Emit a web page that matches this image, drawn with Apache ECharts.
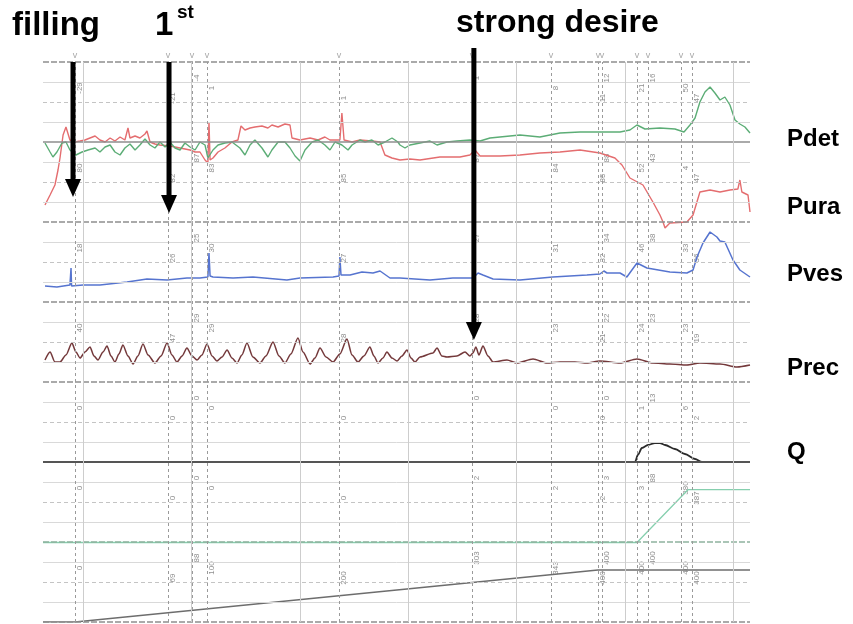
<!DOCTYPE html>
<html><head><meta charset="utf-8">
<script src="https://cdn.jsdelivr.net/npm/echarts@6/dist/echarts.min.js"></script>
<style>html,body{margin:0;padding:0;background:#fff}#c{width:853px;height:624px}</style>
</head><body><div id="c"></div>
<script>
// ---------- DATA (time in s) ----------
const minuteLines = [22, 82, 142, 202, 262, 322, 382];
const eventTimes = [17.7, 69.1, 82.4, 90.7, 163.7, 237.2, 280.9, 306.9, 309.1, 328.5, 334.6, 352.8, 358.9];
const arrowTimes = [16.6, 69.7, 238.3];
const arrowLabels = ['filling', '1st', 'strong desire'];
const channelNames = ['Pdet', 'Pura', 'Pves', 'Prec', 'Q'];

// Pdet, cmH2O
const pdet = [[1.1,-1],[3.9,-10],[5.5,-15],[7.7,-10],[10.5,-1],[12.7,0],[14.9,-8],[18.2,-13],[21.6,-10],[24.9,-8],[28.8,-6],[31.5,-10],[34.3,-5],[37.1,-3],[39.8,-10],[42.6,-13],[45.3,-6],[48.1,-2],[50.9,-8],[53.6,-3],[56.4,3],[59.2,-3],[61.9,-6],[64.7,0],[67.5,-5],[70.2,0],[73.0,-6],[75.8,-8],[78.5,-1],[81.3,-5],[84.1,-8],[86.8,0],[89.6,-3],[91.2,-16],[94.0,-8],[96.8,-3],[100.6,-1],[104.5,0],[108.9,-6],[111.7,-13],[114.5,-3],[117.2,2],[121.1,-6],[124.4,-15],[126.6,-8],[130.0,0],[133.8,0],[136.6,-6],[139.4,-14],[142.1,-19],[144.9,-8],[148.8,0],[152.1,2],[155.9,-3],[158.7,-8],[161.5,0],[165.3,-3],[168.7,-8],[170.9,-3],[175.3,2],[178.1,0],[181.9,2],[185.3,-3],[189.1,0],[193.0,4],[196.3,0],[197.4,-3],[200.2,-6],[202.9,-3],[208.5,-1],[214.0,1],[217.9,-3],[223.4,0],[228.9,1],[236.1,2],[241.7,1],[247.2,4],[252.7,5],[263.8,7],[274.8,5],[285.9,9],[297.0,10],[308.0,10],[319.1,10],[324.6,12],[328.5,17],[332.9,13],[341.2,14],[349.5,13],[354.5,10],[357.8,17],[360.6,24],[363.3,40],[366.1,50],[368.9,55],[371.6,49],[374.4,42],[377.1,45],[379.9,37],[382.7,22],[385.4,18],[388.2,15],[391.0,9]];
// Pura, cmH2O
const pura = [[1.1,17],[3.9,27],[6.6,37],[8.3,52],[9.4,64],[11.1,87],[12.7,95],[13.8,94],[14.9,82],[17.7,80],[20.5,81],[23.2,82],[26.0,84],[28.8,86],[31.5,82],[34.3,80],[37.1,84],[39.8,81],[42.6,85],[45.3,82],[47.0,94],[48.1,84],[50.9,86],[53.6,84],[56.4,88],[57.5,91],[59.2,80],[61.9,78],[64.7,77],[70.2,76],[75.8,74],[81.3,72],[84.1,70],[86.8,70],[89.6,62],[91.2,59],[91.8,100],[92.4,62],[94.0,64],[96.8,70],[100.6,74],[104.5,80],[107.8,82],[109.5,96],[111.7,92],[114.5,94],[117.2,95],[121.1,96],[124.4,94],[126.6,97],[130.0,95],[133.8,98],[136.6,97],[137.7,84],[142.1,82],[147.7,84],[152.1,82],[155.9,85],[158.7,82],[164.2,82],[165.3,109],[166.5,82],[170.9,80],[175.3,82],[181.9,81],[186.4,80],[189.1,67],[193.0,64],[197.4,62],[202.9,63],[208.5,62],[219.5,65],[230.6,65],[236.1,67],[238.9,72],[241.7,66],[252.7,66],[263.8,67],[274.8,69],[285.9,70],[297.0,72],[308.0,69],[316.3,64],[320.2,57],[324.6,44],[331.8,37],[337.3,20],[341.2,7],[342.9,0],[344.0,-6],[346.7,-1],[356.1,0],[359.5,7],[363.3,30],[368.9,32],[374.4,30],[379.9,32],[384.3,33],[385.4,42],[386.5,30],[389.9,27],[391.0,10]];
// Pves, cmH2O
const pves = [[1.1,16],[7.7,15],[14.9,17],[15.2,17],[15.5,34],[15.8,16],[22.1,17],[31.5,17],[46.5,20],[57.5,23],[68.6,22],[79.6,24],[86.8,24],[91.2,25],[91.8,49],[92.4,26],[94.0,25],[105.1,24],[116.1,25],[134.9,22],[142.1,24],[160.4,25],[163.7,26],[164.2,45],[164.8,27],[169.8,27],[176.4,30],[182.5,29],[186.4,31],[191.9,24],[197.4,24],[214.0,22],[226.7,24],[237.8,24],[240.6,29],[243.3,27],[248.9,23],[263.8,22],[282.0,25],[300.8,27],[308.0,28],[310.2,31],[311.9,29],[319.1,29],[322.9,25],[328.5,39],[334.0,34],[346.7,30],[356.1,29],[359.5,32],[361.7,45],[365.0,59],[368.9,70],[372.7,65],[374.4,61],[377.1,60],[381.6,42],[385.4,32],[391.0,25]];
// Prec, cmH2O
const prec = [[1.1,22],[3.9,30],[6.6,20],[9.4,20],[12.7,27],[16.0,39],[18.2,30],[20.5,24],[23.2,30],[26.0,35],[28.2,26],[30.4,22],[33.2,30],[35.4,36],[37.6,26],[39.8,20],[42.0,28],[44.2,37],[47.0,26],[49.8,18],[52.5,26],[55.3,38],[58.1,27],[61.9,19],[65.3,26],[68.6,39],[71.3,27],[74.1,20],[76.9,26],[79.6,34],[82.4,26],[85.2,22],[87.9,27],[90.7,38],[93.5,26],[96.2,21],[99.0,25],[101.8,32],[104.5,24],[107.3,19],[110.0,27],[112.8,39],[116.1,25],[120.0,19],[123.3,26],[127.2,40],[130.5,26],[133.8,19],[137.1,28],[141.0,44],[143.8,30],[147.7,18],[150.4,24],[153.2,34],[156.5,25],[160.4,20],[164.2,28],[168.1,43],[170.9,27],[174.2,20],[177.5,26],[180.8,35],[183.0,26],[185.3,19],[188.0,24],[190.2,30],[193.0,24],[195.8,21],[198.5,26],[201.3,32],[203.5,24],[205.7,20],[208.5,25],[215.7,29],[217.9,34],[220.6,26],[223.4,25],[228.9,26],[233.4,30],[236.1,26],[237.8,29],[239.4,35],[241.1,27],[243.3,36],[246.1,26],[248.9,20],[256.6,22],[262.1,19],[271.0,23],[278.7,19],[285.9,20],[294.2,20],[300.8,19],[308.0,21],[319.1,19],[328.5,23],[337.3,19],[346.7,18],[356.1,17],[363.3,19],[374.4,18],[383.8,15],[391.0,17]];
// Q, ml/s
const flow = [[0,0],[327.4,0],[329.0,4.9],[331.2,9.8],[334.6,11.9],[338.4,13.3],[341.2,13.3],[344.0,11.9],[349.5,9.1],[355.0,5.6],[360.6,2.1],[364.4,0],[391,0]];
// voided volume, ml
const voided = [[0,0],[328.5,0],[356.7,380],[391,380]];
// infused volume, ml
const infused = [[0,0],[17.7,0],[306.9,400],[391,400]];

// small value tags printed at each event, per band
const pdetTags = ['-29','-21','-4','1','1','1','8','11','12','21','16','50','47'];
const puraTags = ['80','82','87','83','85','87','84','85','88','52','43','4','47'];
const pvesTags = ['18','26','25','30','27','27','31','32','34','46','38','33','36'];
const precTags = ['40','47','29','29','28','28','23','21','22','24','23','23','19'];
const qTags    = ['0','0','0','0','0','0','0','0','0','1','13','6','2'];
const volTags  = ['0','0','0','0','0','2','2','2','3','3','88','380','387'];
const infTags  = ['0','69','88','100','200','303','343','400','400','400','400','400','400'];

// ---------- LAYOUT ----------
const G = {top: 62, bottom: 622, left: 43, right: 750};
const tagRows = [1,2,0,1,2,0,1,2,0,1,0,1,2];
function chAxis(basePx, perPx) {
  return {type:'value', show:false, min: -(G.bottom - basePx) * perPx, max: (basePx - G.top) * perPx};
}
const yAxes = [
  {type:'value', show:false, min:0, max:28},       // 0: row units
  chAxis(142, 1),    // 1 Pdet
  chAxis(222, 1),    // 2 Pura
  chAxis(302, 1),    // 3 Pves
  chAxis(382, 1),    // 4 Prec
  chAxis(462, 0.7),  // 5 Q
  chAxis(542.5, 7.2),// 6 voided
  chAxis(622, 7.7)   // 7 infused
];

const frame = [];
for (let k = 0; k <= 28; k++) {
  let ls;
  if (k % 4 === 0) ls = {color:'#8e8e8e', width:1.6, type:[6,2]};
  else if (k % 2 === 0) ls = {color:'#c4c4c4', width:1, type:[4,3]};
  else ls = {color:'#d9d9d9', width:1, type:'solid'};
  if (k === 24) ls = {color:'#8e8e8e', width:1.5, type:'solid'};
  if (k === 8) ls = {color:'#555', width:2, type:'solid'};
  if (k === 4) ls = {color:'#8fb39f', width:1.6, type:[6,2]};
  frame.push({yAxis:k, lineStyle:ls});
}
minuteLines.forEach(t => frame.push({xAxis:t, lineStyle:{color:'#cdcdcd', width:1, type:'solid'}}));
eventTimes.forEach(t => frame.push({xAxis:t, lineStyle:{color:'#9a9a9a', width:1, type:[3,3]}}));

function trace(data, yi, color, width, smooth) {
  return {type:'line', data, xAxisIndex:0, yAxisIndex:yi, showSymbol:false, symbol:'none',
    smooth: smooth || false, smoothMonotone:'x', z:3, silent:true, animation:false,
    lineStyle:{color, width: width || 1.4}};
}
function tagSeries(tags, bandTop) {
  const data = [];
  tags.forEach((s, i) => { if (s !== '') data.push([eventTimes[i] + 2.6, bandTop - 0.8 - tagRows[i] * 0.5, s]); });
  return {type:'scatter', data, yAxisIndex:0, symbolSize:0, silent:true, animation:false, z:2,
    label:{show:true, position:'inside', rotate:90, fontSize:8, color:'#727272',
      fontFamily:'Liberation Sans', formatter: p => p.data[2]}};
}

const chart = echarts.init(document.getElementById('c'), null, {renderer:'canvas'});
chart.setOption({
  animation:false,
  backgroundColor:'#ffffff',
  grid:{left:G.left, right:853 - G.right, top:G.top, bottom:624 - G.bottom},
  xAxis:{type:'value', min:0, max:391, show:false},
  yAxis: yAxes,
  series:[
    {type:'line', data:[[0,0]], yAxisIndex:0, symbol:'none', lineStyle:{opacity:0}, z:1, silent:true,
      markLine:{silent:true, symbol:['none','none'], label:{show:false}, animation:false, data:frame}},
    tagSeries(pdetTags, 28), tagSeries(puraTags, 24), tagSeries(pvesTags, 20), tagSeries(precTags, 16),
    tagSeries(qTags, 12), tagSeries(volTags, 8), tagSeries(infTags, 4),
    trace(infused, 7, '#6d6d6d', 1.5),
    trace(voided, 6, '#86cfae', 1.3),
    trace(flow, 5, '#2a2a2a', 1.8, 0.3),
    trace(prec, 4, '#74393b', 1.5, 0.25),
    trace(pves, 3, '#5674cf', 1.5),
    trace(pura, 2, '#e46d6f', 1.4),
    trace(pdet, 1, '#5cad76', 1.4)
  ]
});

// ---------- annotations ----------
const px = t => chart.convertToPixel({xAxisIndex:0}, t);
const gfx = [];
eventTimes.forEach(t => gfx.push({type:'text', x:px(t), y:56, silent:true,
  style:{text:'v', fontSize:9, fill:'#a8a8a8', align:'center', verticalAlign:'middle', fontFamily:'Liberation Sans'}}));
const arrowSpans = [[62, 197], [62, 213], [48, 340]];
arrowTimes.forEach((t, i) => {
  const x = px(t), y0 = arrowSpans[i][0], y1 = arrowSpans[i][1];
  gfx.push({type:'rect', silent:true, shape:{x:x - 2.5, y:y0, width:5, height:y1 - y0 - 16}, style:{fill:'#000'}, z:50});
  gfx.push({type:'polygon', silent:true, shape:{points:[[x - 8, y1 - 18], [x + 8, y1 - 18], [x, y1]]}, style:{fill:'#000'}, z:50});
});
const bold = 'bold 33px "Liberation Sans", Arial, sans-serif';
gfx.push({type:'text', x:12, y:26, silent:true, style:{text:arrowLabels[0], font:bold, fill:'#000', verticalAlign:'middle'}});
gfx.push({type:'text', x:155, y:26, silent:true, style:{text:'1', font:bold, fill:'#000', verticalAlign:'middle'}});
gfx.push({type:'text', x:177, y:13, silent:true, style:{text:'st', font:'bold 19px "Liberation Sans", Arial, sans-serif', fill:'#000', verticalAlign:'middle'}});
gfx.push({type:'text', x:456, y:23, silent:true, style:{text:arrowLabels[2], font:'bold 32px "Liberation Sans", Arial, sans-serif', fill:'#000', verticalAlign:'middle'}});
const labelY = [139, 207, 274, 368, 452];
channelNames.forEach((n, i) => gfx.push({type:'text', x:787, y:labelY[i], silent:true,
  style:{text:n, font:'bold 24px "Liberation Sans", Arial, sans-serif', fill:'#000', verticalAlign:'middle'}}));
chart.setOption({graphic: gfx});
</script>
</body></html>
